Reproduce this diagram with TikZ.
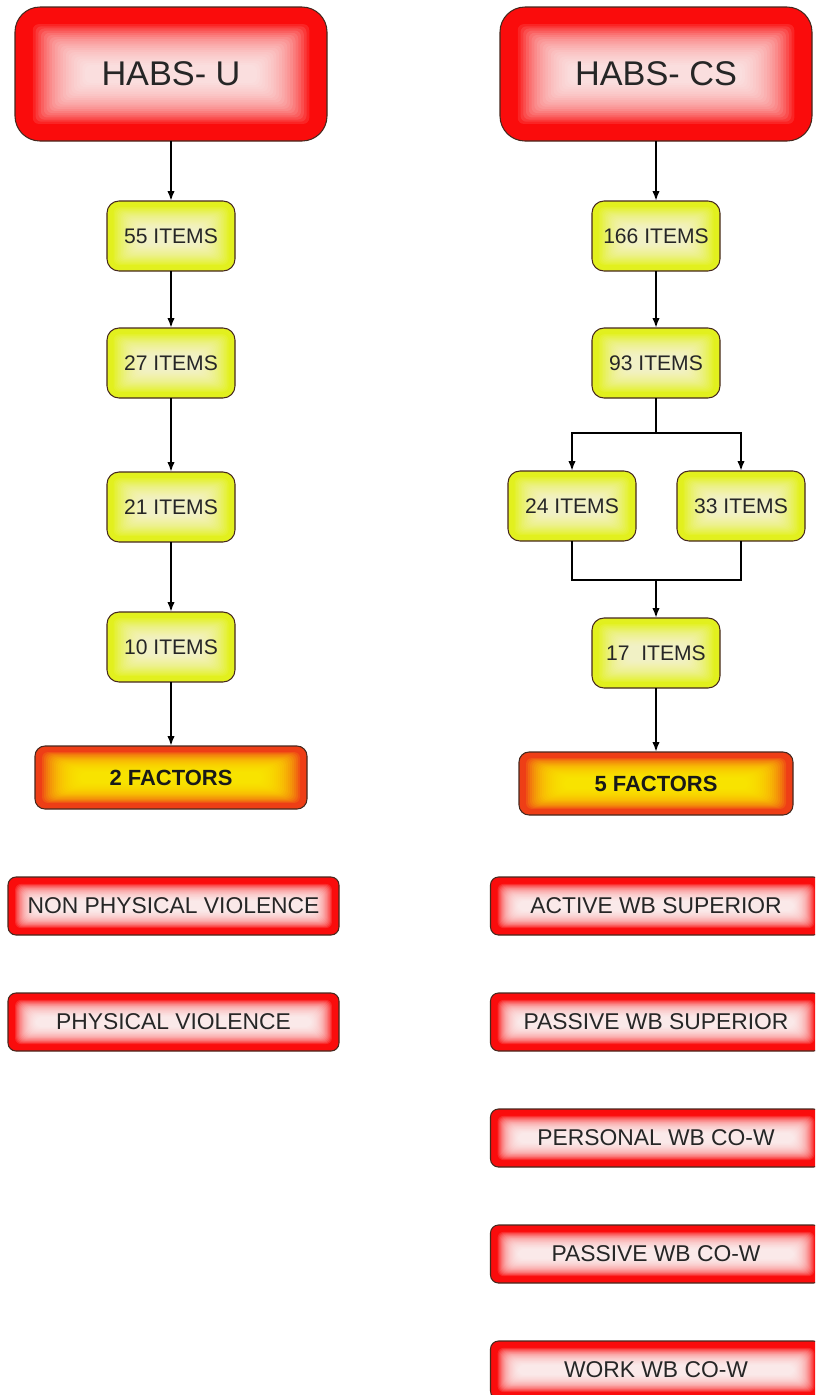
\documentclass[tikz,border=0pt]{standalone}
\usepackage{fontspec}
\setmainfont{Liberation Sans}
\usetikzlibrary{arrows.meta,positioning}

\definecolor{boxred}{RGB}{250,12,12}
\definecolor{boxyellow}{RGB}{226,240,30}
\definecolor{boxorange}{RGB}{238,62,22}
\definecolor{edgedark}{RGB}{70,40,30}

% soft inner glow: colour, start inset, x step, y step, opacity
\tikzset{
  glow/.style n args={5}{path picture={%
    \foreach \k in {1,...,20}
      \fill[#1, opacity=#5, rounded corners=1.2mm]
        ([xshift=#2+\k*#3, yshift=#2+\k*#4]path picture bounding box.south west) rectangle
        ([xshift=-#2-\k*#3, yshift=-#2-\k*#4]path picture bounding box.north east);}},
}

\begin{document}
\begin{tikzpicture}[>={Latex[length=2mm, width=1.5mm]}, node distance=11.6mm,
  link/.style={draw=black, line width=1.6pt},
  head/.style={draw=edgedark, line width=0.6pt, rounded corners=5mm, fill=boxred, text=black!85,
    minimum width=62.4mm, minimum height=26.8mm, outer sep=0pt, font=\fontsize{19.5}{23}\selectfont,
    glow={white}{3mm}{0.55mm}{0.43mm}{0.1}},
  items/.style={draw=edgedark, line width=0.6pt, rounded corners=2.4mm, fill=boxyellow, text=black!85,
    minimum width=25.6mm, minimum height=14mm, outer sep=0pt, font=\fontsize{12}{14}\selectfont,
    glow={white}{1mm}{0.3mm}{0.225mm}{0.07}},
  factors/.style={draw=edgedark, line width=0.6pt, rounded corners=2mm, fill=boxorange, text=black!90,
    minimum width=54.4mm, minimum height=12.6mm, outer sep=0pt, font=\fontsize{12.5}{15}\selectfont\bfseries,
    glow={yellow}{1mm}{0.4mm}{0.21mm}{0.13}},
  bar/.style={draw=edgedark, line width=0.6pt, rounded corners=1.6mm, fill=boxred, text=black!85,
    minimum width=66.2mm, minimum height=11.6mm, outer sep=0pt, font=\fontsize{13}{15}\selectfont,
    glow={white}{1.2mm}{0.215mm}{0.18mm}{0.12}}]
  \useasboundingbox (0,0) rectangle (163mm,-279mm);
  \clip (0,0) rectangle (163mm,-279mm);

  % HABS-U
  \node[head] (habsu) at (34.2mm,-14.8mm) {HABS- U};
  \node[items, below=12mm of habsu] (u55) {55 ITEMS};
  \node[items, below=11.4mm of u55] (u27) {27 ITEMS};
  \node[items, below=14.8mm of u27] (u21) {21 ITEMS};
  \node[items, below=14mm of u21] (u10) {10 ITEMS};
  \node[factors, below=12.8mm of u10] (ufac) {2 FACTORS};
  \node[bar, below=13.6mm of ufac, xshift=0.5mm] (unpv) {NON PHYSICAL VIOLENCE};
  \node[bar, below=of unpv] (upv) {PHYSICAL VIOLENCE};

  % HABS-CS
  \node[head] (habscs) at (131.2mm,-14.8mm) {HABS- CS};
  \node[items, below=12mm of habscs] (cs166) {166 ITEMS};
  \node[items, below=11.4mm of cs166] (cs93) {93 ITEMS};
  \node[items, below=14.6mm of cs93, xshift=-16.8mm] (cs24) {24 ITEMS};
  \node[items, below=14.6mm of cs93, xshift=17mm] (cs33) {33 ITEMS};
  \node[items, below=44mm of cs93] (cs17) {17\ \ ITEMS};
  \node[factors, below=12.8mm of cs17, minimum width=54.8mm] (csfac) {5 FACTORS};
  \node[bar, below=12.4mm of csfac] (csact) {ACTIVE WB SUPERIOR};
  \node[bar, below=of csact] (cspsup) {PASSIVE WB SUPERIOR};
  \node[bar, below=of cspsup] (cspers) {PERSONAL WB CO-W};
  \node[bar, below=of cspers] (cspcow) {PASSIVE WB CO-W};
  \node[bar, below=of cspcow] (cswork) {WORK WB CO-W};

  \foreach \a/\b in {habsu/u55,u55/u27,u27/u21,u21/u10,u10/ufac,habscs/cs166,cs166/cs93,cs17/csfac}
    \draw[link, ->] (\a) -- (\b);

  % split and merge
  \coordinate[below=7mm of cs93] (split);
  \path (cs24.south -| cs17.north) ++(0,-7.8mm) coordinate (merge);
  \draw[link] (cs93) -- (split);
  \draw[link, ->] (split) -| (cs24);
  \draw[link, ->] (split) -| (cs33);
  \draw[link] (cs24) |- (merge) -| (cs33);
  \draw[link, ->] (merge) -- (cs17);
\end{tikzpicture}
\end{document}
